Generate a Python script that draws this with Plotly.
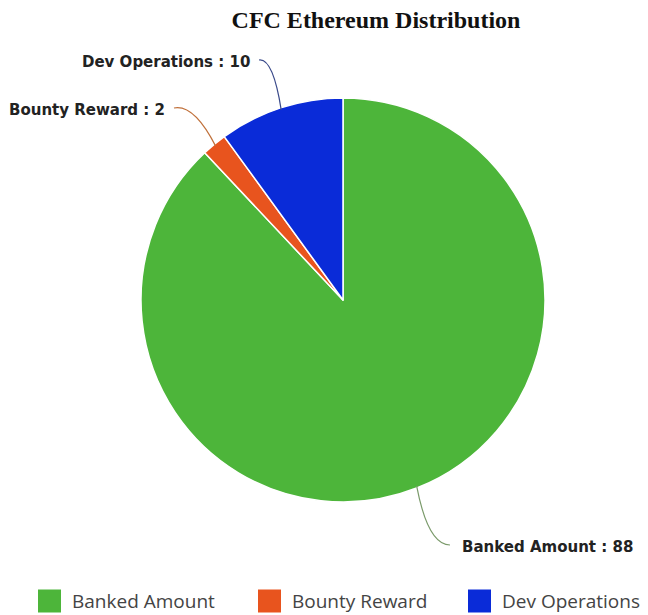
import math
import plotly.graph_objects as go

labels = ["Banked Amount", "Bounty Reward", "Dev Operations"]
values = [88, 2, 10]
colors = ["#4db53a", "#e8541e", "#0a2bd8"]
line_colors = ["#7a9a6a", "#c0703a", "#3a4a8a"]

W, H = 648, 615
OX, OY = 8, 8          # page body offset compensation
cx, cy, R = 343, 300, 200  # pie center / radius in px (as seen)

def px(x, y):
    return (x - OX) / W, 1 - (y - OY) / H

dx0, dy1 = px(cx - R - 2, cy + R + 2)
dx1, dy0 = px(cx + R + 2, cy - R - 2)

fig = go.Figure(go.Pie(
    labels=labels, values=values, sort=False, direction="clockwise",
    marker=dict(colors=colors, line=dict(color="white", width=1.5)),
    textinfo="none", hoverinfo="label+value", showlegend=False,
    domain=dict(x=[dx0, dx1], y=[dy1, dy0]),
))

total = sum(values)
cum = 0
shapes = []
annotations = []
label_pos = {
    "Banked Amount": dict(end=(450, 545), ctrl=(428, 545), tx=460, anchor="left"),
    "Bounty Reward": dict(end=(174, 108), ctrl=(194, 104), tx=167, anchor="right"),
    "Dev Operations": dict(end=(259, 60), ctrl=(273, 58), tx=252, anchor="right"),
}
for lab, v, lc in zip(labels, values, line_colors):
    mid = (cum + v / 2) / total * 2 * math.pi
    cum += v
    ex = cx + R * math.sin(mid)
    ey = cy - R * math.cos(mid)
    p = label_pos[lab]
    x0, y0 = px(ex, ey)
    qx, qy = px(*p["ctrl"])
    x1, y1 = px(*p["end"])
    shapes.append(dict(type="path", xref="paper", yref="paper",
                       path=f"M {x0},{y0} Q {qx},{qy} {x1},{y1}",
                       line=dict(color=lc, width=1.2)))
    tx, ty = px(p["tx"], p["end"][1] + 2)
    annotations.append(dict(x=tx, y=ty, xref="paper", yref="paper",
                            text=f"<b>{lab} : {v}</b>", showarrow=False,
                            xanchor=p["anchor"], yanchor="middle",
                            font=dict(family="DejaVu Sans", size=15, color="#222222")))

# custom legend (large squares)
leg_x = [38, 258, 468]
leg_y = 601
sq = 23
for lab, col, lx in zip(labels, colors, leg_x):
    a0, b0 = px(lx, leg_y + sq / 2)
    a1, b1 = px(lx + sq, leg_y - sq / 2)
    shapes.append(dict(type="rect", xref="paper", yref="paper", x0=a0, x1=a1, y0=b0, y1=b1,
                       fillcolor=col, line=dict(width=0)))
    tx, ty = px(lx + sq + 9, leg_y)
    annotations.append(dict(x=tx, y=ty, xref="paper", yref="paper", text=lab, showarrow=False,
                            xanchor="left", yanchor="middle",
                            font=dict(family="Open Sans, Noto Sans", size=19, color="#444444")))

tx, ty = px(376, 20)
fig.update_layout(
    width=W, height=H,
    margin=dict(l=0, r=0, t=0, b=0),
    paper_bgcolor="white",
    title=dict(text="<b>CFC Ethereum Distribution</b>", x=tx, xanchor="center",
               y=ty, yanchor="middle",
               font=dict(family="Liberation Serif, Times New Roman", size=24, color="#111111")),
    shapes=shapes,
    annotations=annotations,
    showlegend=False,
)

fig.write_html("out.html")
